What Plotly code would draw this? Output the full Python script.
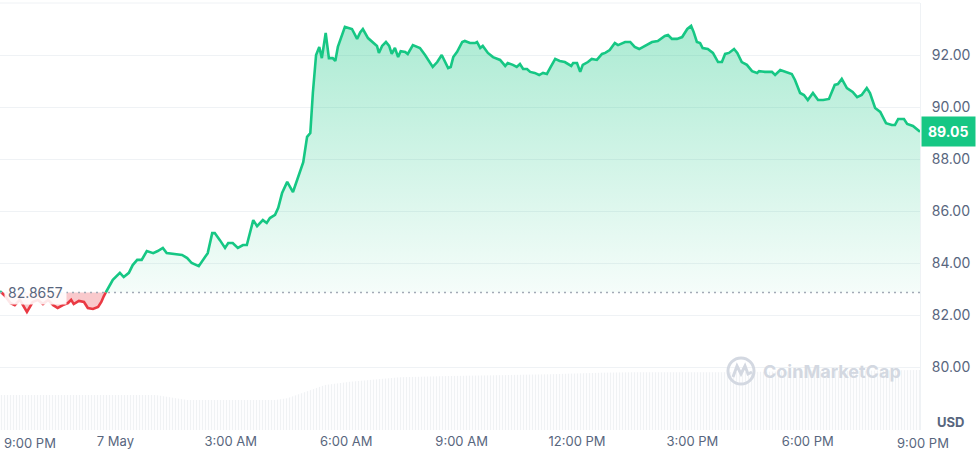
import plotly.graph_objects as go
import pandas as pd

# ---------------- data ----------------
start_time = "2024-05-06 21:00"
minutes = [0, 8, 16, 23, 31, 42, 51, 59, 67, 75, 83, 90, 98, 106, 111, 115, 123, 131, 137, 145,
           153, 158, 162, 167, 176, 187, 193, 201, 207, 214, 221, 229, 239, 246, 254, 260, 270, 284, 292, 299,
           310, 317, 324, 331, 335, 343, 351, 356, 363, 371, 379, 385, 395, 401, 410, 416, 421, 429, 434, 440,
           448, 457, 465, 473, 479, 484, 488, 493, 498, 502, 508, 513, 519, 523, 527, 538, 549, 557, 562, 566,
           574, 582, 588, 591, 596, 602, 607, 611, 616, 621, 625, 632, 636, 644, 655, 663, 675, 682, 689, 699,
           703, 707, 713, 721, 725, 733, 741, 744, 749, 753, 761, 769, 780, 788, 792, 800, 806, 811, 816, 822,
           827, 834, 841, 847, 853, 859, 866, 873, 881, 891, 894, 900, 905, 909, 917, 923, 931, 939, 944, 951,
           959, 964, 975, 983, 990, 997, 1006, 1017, 1026, 1037, 1042, 1048, 1056, 1064, 1072, 1078, 1082, 1087, 1092, 1096,
           1104, 1112, 1120, 1126, 1131, 1137, 1145, 1150, 1157, 1165, 1173, 1181, 1184, 1193, 1204, 1209, 1217, 1224, 1235, 1240,
           1248, 1254, 1260, 1268, 1276, 1284, 1293, 1302, 1307, 1313, 1321, 1330, 1337, 1344, 1352, 1357, 1365, 1373, 1382, 1391,
           1396, 1401, 1410, 1415, 1424, 1435]
price = [82.92, 82.73, 82.46, 82.38, 82.58, 82.12, 82.50, 82.58, 82.42, 82.58, 82.38, 82.27, 82.38, 82.46, 82.58, 82.42, 82.54, 82.50, 82.27, 82.23,
         82.31, 82.50, 82.73, 82.96, 83.35, 83.62, 83.46, 83.62, 83.92, 84.12, 84.12, 84.46, 84.38, 84.46, 84.58, 84.38, 84.35, 84.31, 84.19, 84.00,
         83.88, 84.12, 84.38, 85.15, 85.15, 84.88, 84.58, 84.77, 84.77, 84.58, 84.69, 84.69, 85.65, 85.42, 85.65, 85.54, 85.73, 85.85, 86.12, 86.69,
         87.12, 86.73, 87.31, 87.88, 88.85, 89.00, 90.54, 92.00, 92.31, 91.88, 92.85, 91.88, 91.88, 91.77, 92.31, 93.08, 93.00, 92.62, 92.88, 93.00,
         92.65, 92.46, 92.35, 92.08, 92.35, 92.50, 92.35, 92.04, 92.27, 91.92, 92.15, 92.12, 92.04, 92.38, 92.27, 92.00, 91.54, 91.73, 92.00, 91.50,
         91.54, 91.92, 92.12, 92.50, 92.54, 92.46, 92.46, 92.50, 92.27, 92.35, 92.08, 91.92, 91.81, 91.58, 91.69, 91.62, 91.54, 91.65, 91.46, 91.46,
         91.35, 91.31, 91.23, 91.31, 91.27, 91.54, 91.85, 91.77, 91.73, 91.58, 91.69, 91.69, 91.35, 91.62, 91.73, 91.85, 91.81, 92.04, 92.08, 92.19,
         92.46, 92.38, 92.50, 92.50, 92.31, 92.23, 92.35, 92.50, 92.54, 92.73, 92.77, 92.62, 92.62, 92.69, 93.00, 93.12, 92.88, 92.50, 92.46, 92.27,
         92.23, 92.08, 91.73, 91.73, 92.04, 92.08, 92.23, 92.08, 91.73, 91.62, 91.38, 91.31, 91.38, 91.35, 91.35, 91.23, 91.42, 91.35, 91.27, 91.04,
         90.54, 90.46, 90.27, 90.54, 90.27, 90.27, 90.31, 90.85, 90.88, 91.08, 90.73, 90.58, 90.38, 90.46, 90.73, 90.54, 89.96, 89.81, 89.38, 89.31,
         89.31, 89.54, 89.54, 89.35, 89.27, 89.05]
base_price = 82.8657
last_price = 89.05

vol_minutes = [0, 243, 292, 429, 448, 487, 507, 546, 624, 702, 858, 936, 984, 1121, 1404, 1435]
volume_musd = [350, 350, 300, 300, 317, 400, 450, 483, 527, 540, 557, 573, 577, 577, 600, 600]

x_tick_times = ["2024-05-07 00:00", "2024-05-07 03:00", "2024-05-07 06:00", "2024-05-07 09:00",
                "2024-05-07 12:00", "2024-05-07 15:00", "2024-05-07 18:00"]
x_tick_labels = ["7 May", "3:00 AM", "6:00 AM", "9:00 AM", "12:00 PM", "3:00 PM", "6:00 PM"]
first_tick_label = "9:00 PM"
last_tick_time = "2024-05-07 21:00"
last_tick_label = "9:00 PM"
y_ticks = [80, 82, 84, 86, 88, 90, 92]
currency = "USD"
watermark = "CoinMarketCap"

# ---------------- build ----------------
GREEN = "#16c784"
RED = "#ea3943"
TXT = "#58667e"
WM = "#d3d8e1"
FONT = "Inter"

t0 = pd.Timestamp(start_time)
times = [t0 + pd.Timedelta(minutes=m) for m in minutes]
vtimes = [t0 + pd.Timedelta(minutes=m) for m in vol_minutes]
t_end = times[-1]

# insert baseline crossings
xs, ys = [], []
for i, v in enumerate(price):
    if i > 0:
        a, b = price[i - 1], v
        if (a - base_price) * (b - base_price) < 0:
            f = (base_price - a) / (b - a)
            xs.append(times[i - 1] + (times[i] - times[i - 1]) * f)
            ys.append(base_price)
    xs.append(times[i])
    ys.append(v)

green_line = [y if y >= base_price else None for y in ys]
red_line = [y if y <= base_price else None for y in ys]
green_fill = [max(y, base_price) for y in ys]
red_fill = [min(y, base_price) for y in ys]
base_arr = [base_price] * len(xs)

fig = go.Figure()

# volume (hatched bars)
fig.add_trace(go.Scatter(
    x=vtimes, y=volume_musd, yaxis="y2", mode="lines", line=dict(width=0, color="#e3e6eb"),
    fill="tozeroy", fillcolor="rgba(0,0,0,0)",
    fillpattern=dict(shape="|", fgcolor="#e2e5ea", bgcolor="rgba(255,255,255,0)", size=3, solidity=0.45),
    hoverinfo="skip", showlegend=False))

# green fill
fig.add_trace(go.Scatter(x=xs, y=base_arr, mode="lines", line=dict(width=0), hoverinfo="skip", showlegend=False))
fig.add_trace(go.Scatter(
    x=xs, y=green_fill, mode="lines", line=dict(width=0), fill="tonexty",
    fillgradient=dict(type="vertical", start=base_price, stop=93.2,
                      colorscale=[[0, "rgba(22,199,132,0.04)"], [1, "rgba(22,199,132,0.36)"]]),
    hoverinfo="skip", showlegend=False))
# red fill
fig.add_trace(go.Scatter(x=xs, y=base_arr, mode="lines", line=dict(width=0), hoverinfo="skip", showlegend=False))
fig.add_trace(go.Scatter(
    x=xs, y=red_fill, mode="lines", line=dict(width=0), fill="tonexty",
    fillcolor="rgba(234,57,67,0.27)", hoverinfo="skip", showlegend=False))

# lines
fig.add_trace(go.Scatter(x=xs, y=green_line, mode="lines", line=dict(color=GREEN, width=2.6),
                         connectgaps=False, showlegend=False))
fig.add_trace(go.Scatter(x=xs, y=red_line, mode="lines", line=dict(color=RED, width=2.6),
                         connectgaps=False, showlegend=False))

# dotted baseline
fig.add_shape(type="line", xref="paper", x0=0, x1=1, yref="y", y0=base_price, y1=base_price,
              line=dict(color="#a3aab6", width=1.4, dash="2px,4px"), layer="above")
# top border
fig.add_shape(type="line", xref="paper", x0=0, x1=1, yref="paper", y0=1, y1=1,
              line=dict(color="#eff2f5", width=1), layer="below")

# baseline label
fig.add_annotation(x=0, xref="paper", xanchor="left", xshift=4, y=base_price, yref="y",
                   text=f"{base_price:.4f}", showarrow=False,
                   font=dict(family=FONT, size=14, color=TXT),
                   bgcolor="rgba(255,255,255,0.88)", borderpad=3)
# last price label
fig.add_annotation(x=1, xref="paper", xanchor="left", xshift=1, y=last_price, yref="y",
                   text=f"<b>{last_price:.2f}</b>", showarrow=False,
                   font=dict(family=FONT, size=14, color="white"),
                   bgcolor=GREEN, borderpad=6)
# first tick label (pushed inside the left edge)
fig.add_annotation(x=0, xref="paper", xanchor="left", xshift=2, y=0, yref="paper", yanchor="top", yshift=-3,
                   text=first_tick_label, showarrow=False, font=dict(family=FONT, size=13, color=TXT))
# last tick label (just past the plotted range)
last_frac = (pd.Timestamp(last_tick_time) - t0) / (t_end - t0)
fig.add_annotation(x=last_frac, xref="paper", xanchor="center", y=0, yref="paper", yanchor="top", yshift=-3,
                   text=last_tick_label, showarrow=False, font=dict(family=FONT, size=13, color=TXT))
# currency
fig.add_annotation(x=1, xref="paper", xanchor="left", xshift=15, y=0, yref="paper", yanchor="bottom", yshift=-2,
                   text=f"<b>{currency}</b>", showarrow=False, font=dict(family=FONT, size=13, color=TXT))
# watermark
wm_y = (430 - 371) / 427
fig.add_annotation(x=(903 / 920), xref="paper", xanchor="right", y=wm_y, yref="paper", yanchor="middle",
                   text=f"<b>{watermark}</b>", showarrow=False,
                   font=dict(family=FONT, size=18, color=WM))
fig.add_shape(type="circle", xref="paper", xsizemode="pixel", xanchor=741 / 920, x0=-13, x1=13,
              yref="paper", ysizemode="pixel", yanchor=wm_y, y0=-13, y1=13,
              line=dict(color=WM, width=3))
fig.add_shape(type="path", xref="paper", xsizemode="pixel", xanchor=741 / 920,
              yref="paper", ysizemode="pixel", yanchor=wm_y,
              path="M -8,-6 L -4,5 L 0,-3 L 4,5 L 7,-3 L 11,-1",
              line=dict(color=WM, width=3))

fig.update_layout(
    width=978, height=457,
    margin=dict(l=0, r=58, t=3, b=27),
    paper_bgcolor="white", plot_bgcolor="white",
    font=dict(family=FONT, color=TXT),
    showlegend=False,
    xaxis=dict(type="date", range=[t0, t_end], showgrid=False, zeroline=False,
               tickvals=x_tick_times, ticktext=x_tick_labels, ticks="",
               tickfont=dict(family=FONT, size=13, color=TXT), ticklabelstandoff=2,
               showline=False),
    yaxis=dict(side="right", range=[77.577, 94.0], tickvals=y_ticks, tickformat=".2f",
               showgrid=True, gridcolor="#eff2f5", gridwidth=1, zeroline=False, ticks="",
               tickfont=dict(family=FONT, size=14, color=TXT), ticklabelstandoff=8,
               showline=True, linecolor="#eff2f5", linewidth=1),
    yaxis2=dict(overlaying="y", range=[0, 4270], visible=False, showgrid=False),
)

fig.write_html("out.html", config={"displayModeBar": False},
               post_script="document.body.style.margin='0';")
